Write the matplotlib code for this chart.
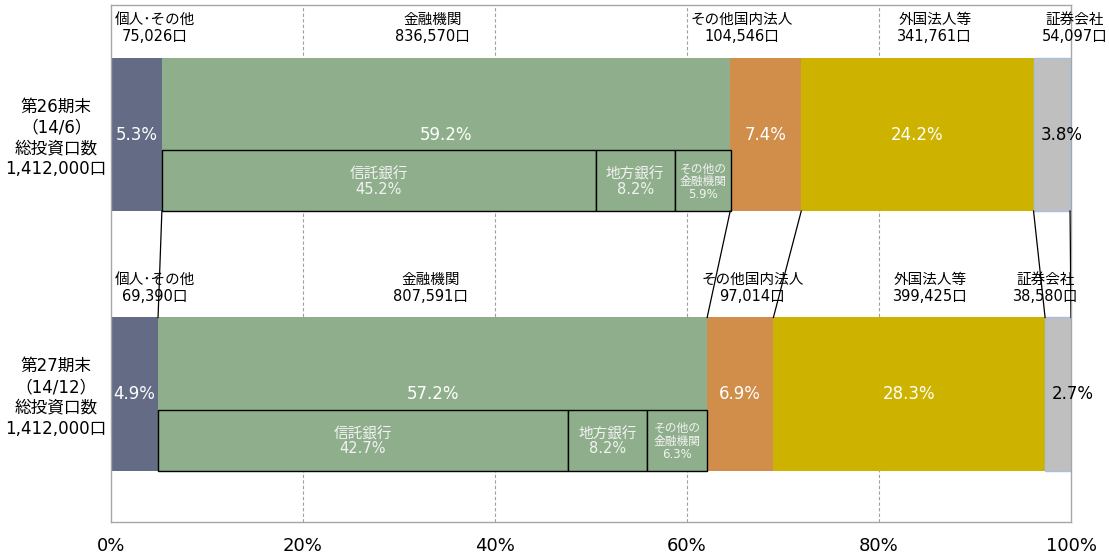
import numpy as np
import matplotlib
matplotlib.use("Agg")
import matplotlib.pyplot as plt

plt.rcParams['font.family'] = ['DejaVu Sans', 'Noto Sans CJK JP']

# investor breakdown (% of total units)
categories = ['個人･その他', '金融機関', 'その他国内法人', '外国法人等', '証券会社']
periods = ['第26期末\n（14/6）\n総投資口数\n1,412,000口',
           '第27期末\n（14/12）\n総投資口数\n1,412,000口']
share_26 = [5.3, 59.2, 7.4, 24.2, 3.8]
share_27 = [4.9, 57.2, 6.9, 28.3, 2.7]
units_26 = ['75,026', '836,570', '104,546', '341,761', '54,097']
units_27 = ['69,390', '807,591', '97,014', '399,425', '38,580']

# financial institutions breakdown
fin_names = ['信託銀行', '地方銀行', 'その他の\n金融機関']
fin_26 = [45.2, 8.2, 5.9]
fin_27 = [42.7, 8.2, 6.3]

colors = ['#636b85', '#8faf8c', '#d18e4a', '#cdb300', '#bfbfbf']
pct_colors = ['white', 'white', 'white', 'white', 'black']

shares = [share_26, share_27]
units = [units_26, units_27]
fins = [fin_26, fin_27]

# label placement (x in %), tuned per bar
name_x = [[4.6, 33.5, 65.7, 85.8, 100.4], [4.6, 33.3, 66.8, 85.3, 97.4]]
pct_dx = [[0, 0, 0, 0, 1.0], [0, 0, 0, 0, 1.5]]

bar_h = 0.59
sub_h = 0.235

fig = plt.figure(figsize=(11.09, 5.57), dpi=100)
ax = fig.add_axes([111 / 1109, 1 - 522 / 557, 960 / 1109, 517 / 557])

for i, (sh, un, fn) in enumerate(zip(shares, units, fins)):
    left = np.concatenate([[0], np.cumsum(sh)[:-1]])
    ax.barh(i, sh, left=left, height=bar_h, color=colors, edgecolor='none', zorder=2)
    # securities segment has a thin blue outline
    ax.barh(i, sh[-1], left=left[-1], height=bar_h, color='none',
            edgecolor='#a9c0dd', linewidth=1, zorder=3)

    for j in range(len(sh)):
        cx = left[j] + sh[j] / 2 + pct_dx[i][j]
        ax.text(cx, i, f'{sh[j]}%', ha='center', va='center', fontsize=12,
                color=pct_colors[j], zorder=5)
        ax.text(name_x[i][j], i - 0.41, f'{categories[j]}\n{un[j]}口', ha='center',
                va='center', fontsize=10.5, linespacing=1.15, zorder=5)

    # sub-bars for financial institutions
    sub_left = left[1] + np.concatenate([[0], np.cumsum(fn)[:-1]])
    sub_y = i + bar_h / 2 - sub_h / 2
    ax.barh(sub_y, fn, left=sub_left, height=sub_h, color=colors[1],
            edgecolor='black', linewidth=1, zorder=3)
    for k in range(len(fn)):
        small = k == 2
        ax.text(sub_left[k] + fn[k] / 2, sub_y + 0.005, f'{fin_names[k]}\n{fn[k]}%',
                ha='center', va='center', fontsize=8.5 if small else 10.5,
                color='#f2f2f2', linespacing=1.0, zorder=5)

# connector lines between the two bars
cum_26 = np.cumsum(share_26)
cum_27 = np.cumsum(share_27)
for a, b in zip(cum_26, cum_27):
    ax.plot([a, b], [bar_h / 2, 1 - bar_h / 2], color='black', linewidth=0.9, zorder=4)

ax.set_xlim(0, 100)
ax.set_ylim(1.493, -0.499)
ax.set_xticks([0, 20, 40, 60, 80, 100])
ax.set_xticklabels(['0%', '20%', '40%', '60%', '80%', '100%'], fontsize=13)
ax.tick_params(axis='x', length=0, pad=11)
ax.set_yticks([0, 1])
ax.set_yticklabels(periods, fontsize=12, linespacing=1.2)
ax.tick_params(axis='y', length=0, pad=3)
for lbl in ax.get_yticklabels():
    lbl.set_multialignment('center')

for x in [20, 40, 60, 80]:
    ax.axvline(x, color='#a0a0a0', linestyle=(0, (3, 2)), linewidth=0.8, zorder=1)

for s in ax.spines.values():
    s.set_color('#a6a6a6')
    s.set_linewidth(1)

fig.savefig('out.png', dpi=100)
